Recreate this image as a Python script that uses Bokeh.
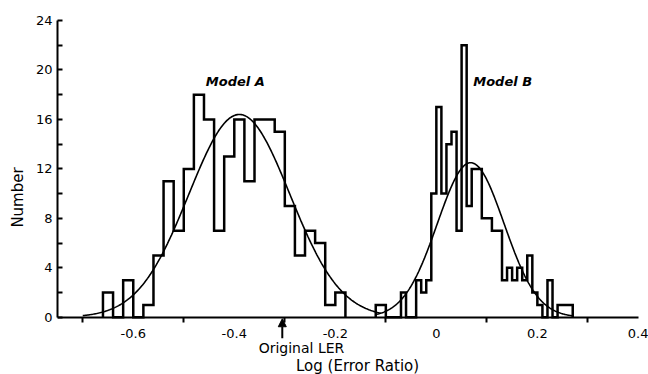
import numpy as np
from bokeh.plotting import figure
from bokeh.models import FixedTicker, Label, Arrow, NormalHead, Range1d
from bokeh.embed import file_html
from bokeh.resources import INLINE

# ---- data ----
# Model A histogram: bins of width 0.02 starting at -0.66
a_start = -0.66
a_width = 0.02
a_counts = [2, 0, 3, 0, 1, 5, 11, 7, 12, 18, 16, 7, 13, 16, 11, 16, 16, 15, 9, 5, 7, 6, 1, 2]

# Model B histogram: bins of width 0.01 starting at -0.12
b_start = -0.12
b_width = 0.01
b_counts = [1, 1, 0, 0, 0, 2, 0, 0, 3, 2, 3, 10, 17, 10, 14, 15, 7, 22, 9, 12,
            12, 8, 8, 7, 7, 3, 4, 3, 4, 3, 5, 2, 1, 0, 3, 0, 1, 1, 1]

# fitted normal curves (mean, sigma, peak height, drawn extent)
a_mu, a_sigma, a_peak, a_lo, a_hi = -0.39, 0.100, 16.4, -0.70, -0.11
b_mu, b_sigma, b_peak, b_lo, b_hi = 0.068, 0.066, 12.5, -0.12, 0.27

original_ler = -0.305

x_tick_vals = [-0.6, -0.4, -0.2, 0.0, 0.2, 0.4]
x_tick_text = ["-0.6", "-0.4", "-0.2", "0", "0.2", "0.4"]
x_minor = [-0.7, -0.5, -0.3, -0.1, 0.1, 0.3]
y_tick_vals = [0, 4, 8, 12, 16, 20, 24]
y_minor = [2, 6, 10, 14, 18, 22]


def step_path(start, width, counts):
    xs, ys = [start], [0]
    for i, c in enumerate(counts):
        left = start + i * width
        xs += [left, left + width]
        ys += [c, c]
    xs.append(start + len(counts) * width)
    ys.append(0)
    return xs, ys


def normal_curve(mu, sigma, peak, lo, hi):
    x = np.linspace(lo, hi, 300)
    return x, peak * np.exp(-0.5 * ((x - mu) / sigma) ** 2)


FONT = "DejaVu Sans"

p = figure(width=648, height=374, output_backend="svg", toolbar_location=None,
           x_range=Range1d(-0.75, 0.42), y_range=Range1d(-4.63, 24),
           min_border_left=57, min_border_right=0, min_border_top=20, min_border_bottom=0)
p.outline_line_color = None
p.grid.visible = False
p.background_fill_color = "white"
p.border_fill_color = "white"

ax, ay = step_path(a_start, a_width, a_counts)
bx, by = step_path(b_start, b_width, b_counts)
p.line(ax, ay, line_color="black", line_width=2.5, line_join="miter")
p.line(bx, by, line_color="black", line_width=2.5, line_join="miter")

cx, cy = normal_curve(a_mu, a_sigma, a_peak, a_lo, a_hi)
p.line(cx, cy, line_color="black", line_width=1.6)
cx, cy = normal_curve(b_mu, b_sigma, b_peak, b_lo, b_hi)
p.line(cx, cy, line_color="black", line_width=1.6)

# axes
xa = p.xaxis[0]
xa.fixed_location = 0
xa.bounds = (-0.75, 0.40)
xa.ticker = FixedTicker(ticks=x_tick_vals, minor_ticks=x_minor)
xa.major_label_overrides = {v: t for v, t in zip(x_tick_vals, x_tick_text)}
xa.major_tick_line_color = None
xa.major_tick_in = 0
xa.major_tick_out = 0
xa.minor_tick_in = 0
xa.minor_tick_out = 5
xa.minor_tick_line_width = 2
xa.minor_tick_line_color = "black"
xa.axis_line_width = 2
xa.axis_line_color = "black"
xa.major_label_standoff = 7
xa.major_label_text_font = FONT
xa.major_label_text_font_size = "13px"
xa.major_label_text_color = "black"

ya = p.yaxis[0]
ya.bounds = (0, 24)
ya.ticker = FixedTicker(ticks=y_tick_vals, minor_ticks=y_minor)
ya.major_tick_in = 5
ya.major_tick_out = 0
ya.minor_tick_in = 5
ya.minor_tick_out = 0
ya.major_tick_line_width = 2
ya.minor_tick_line_width = 2
ya.major_tick_line_color = "black"
ya.minor_tick_line_color = "black"
ya.axis_line_width = 2
ya.axis_line_color = "black"
ya.major_label_standoff = 5
ya.major_label_text_font = FONT
ya.major_label_text_font_size = "13px"
ya.major_label_text_color = "black"
ya.axis_label = "Number"
ya.axis_label_text_font = FONT
ya.axis_label_text_font_size = "15px"
ya.axis_label_text_font_style = "normal"
ya.axis_label_text_color = "black"
ya.axis_label_standoff = 6

# annotations
p.add_layout(Label(x=-0.398, y=19.1, text="Model A", text_font=FONT, text_font_size="13px",
                   text_font_style="bold italic", text_align="center", text_baseline="middle",
                   text_color="black"))
p.add_layout(Label(x=0.073, y=19.1, text="Model B", text_font=FONT, text_font_size="13px",
                   text_font_style="bold italic", text_align="left", text_baseline="middle",
                   text_color="black"))
p.add_layout(Label(x=-0.267, y=-2.45, text="Original LER", text_font=FONT, text_font_size="14px",
                   text_align="center", text_baseline="middle", text_color="black"))
p.add_layout(Label(x=-0.156, y=-3.95, text="Log (Error Ratio)", text_font=FONT, text_font_size="15px",
                   text_align="center", text_baseline="middle", text_color="black"))
p.add_layout(Arrow(x_start=original_ler, y_start=-1.7, x_end=original_ler, y_end=-0.12,
                   line_width=2, line_color="black",
                   end=NormalHead(size=8, fill_color="black", line_color="black")))

open("out.html", "w").write(file_html(p, INLINE))
